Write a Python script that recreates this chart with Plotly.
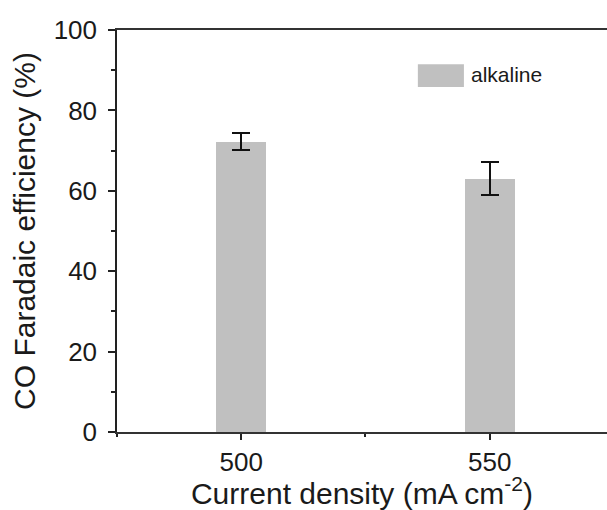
import plotly.graph_objects as go

current_density = [500, 550]
co_fe = [72.2, 63.0]
co_fe_err = [2.1, 4.1]
series_name = "alkaline"
x_ticks = [500, 550]
y_ticks = [0, 20, 40, 60, 80, 100]

FONT = "Liberation Sans, Arial, sans-serif"
TXT = "#1a1a1a"

fig = go.Figure()
fig.add_trace(go.Bar(
    x=current_density, y=co_fe, width=10,
    marker=dict(color="#c0c0c0", line=dict(width=0)),
    error_y=dict(type="data", array=co_fe_err, visible=True,
                 color="#111111", thickness=2, width=9),
    name=series_name, showlegend=False,
))

# legend swatch + label
fig.add_shape(type="rect", xref="paper", yref="paper",
              x0=0.614, x1=0.708, y0=0.858, y1=0.915,
              fillcolor="#c0c0c0", line=dict(width=0))
fig.add_annotation(xref="paper", yref="paper", x=0.718, y=0.889,
                   text=series_name, showarrow=False, xanchor="left",
                   yanchor="middle", font=dict(size=21, color=TXT, family=FONT))

fig.update_layout(
    width=607, height=510,
    margin=dict(l=117, r=0, t=30, b=78),
    paper_bgcolor="white", plot_bgcolor="white",
    font=dict(family=FONT, color=TXT),
    bargap=0,
)
fig.update_xaxes(
    range=[475, 573.6], tickvals=x_ticks, ticktext=[str(v) for v in x_ticks],
    ticks="outside", ticklen=6, tickwidth=1.5, tickcolor="#222",
    minor=dict(dtick=25, tick0=475, ticks="outside", ticklen=3, tickwidth=1.5, tickcolor="#222"),
    showline=True, linecolor="#333", linewidth=1.5, mirror=True,
    showgrid=False, zeroline=False,
    tickfont=dict(size=26, color=TXT),
    title=dict(text="Current density (mA cm<sup>-2</sup>)", font=dict(size=30, color=TXT), standoff=4),
)
fig.update_yaxes(
    range=[0, 100], tickvals=y_ticks,
    ticks="outside", ticklen=7, tickwidth=1.5, tickcolor="#222",
    minor=dict(dtick=10, ticks="outside", ticklen=4, tickwidth=1.5, tickcolor="#222"),
    showline=True, linecolor="#222", linewidth=1.5, mirror=False,
    showgrid=False, zeroline=False,
    tickfont=dict(size=26, color=TXT), ticklabelstandoff=6,
    title=dict(text="CO Faradaic efficiency (%)", font=dict(size=30, color=TXT), standoff=9),
)

fig.write_html("out.html")
